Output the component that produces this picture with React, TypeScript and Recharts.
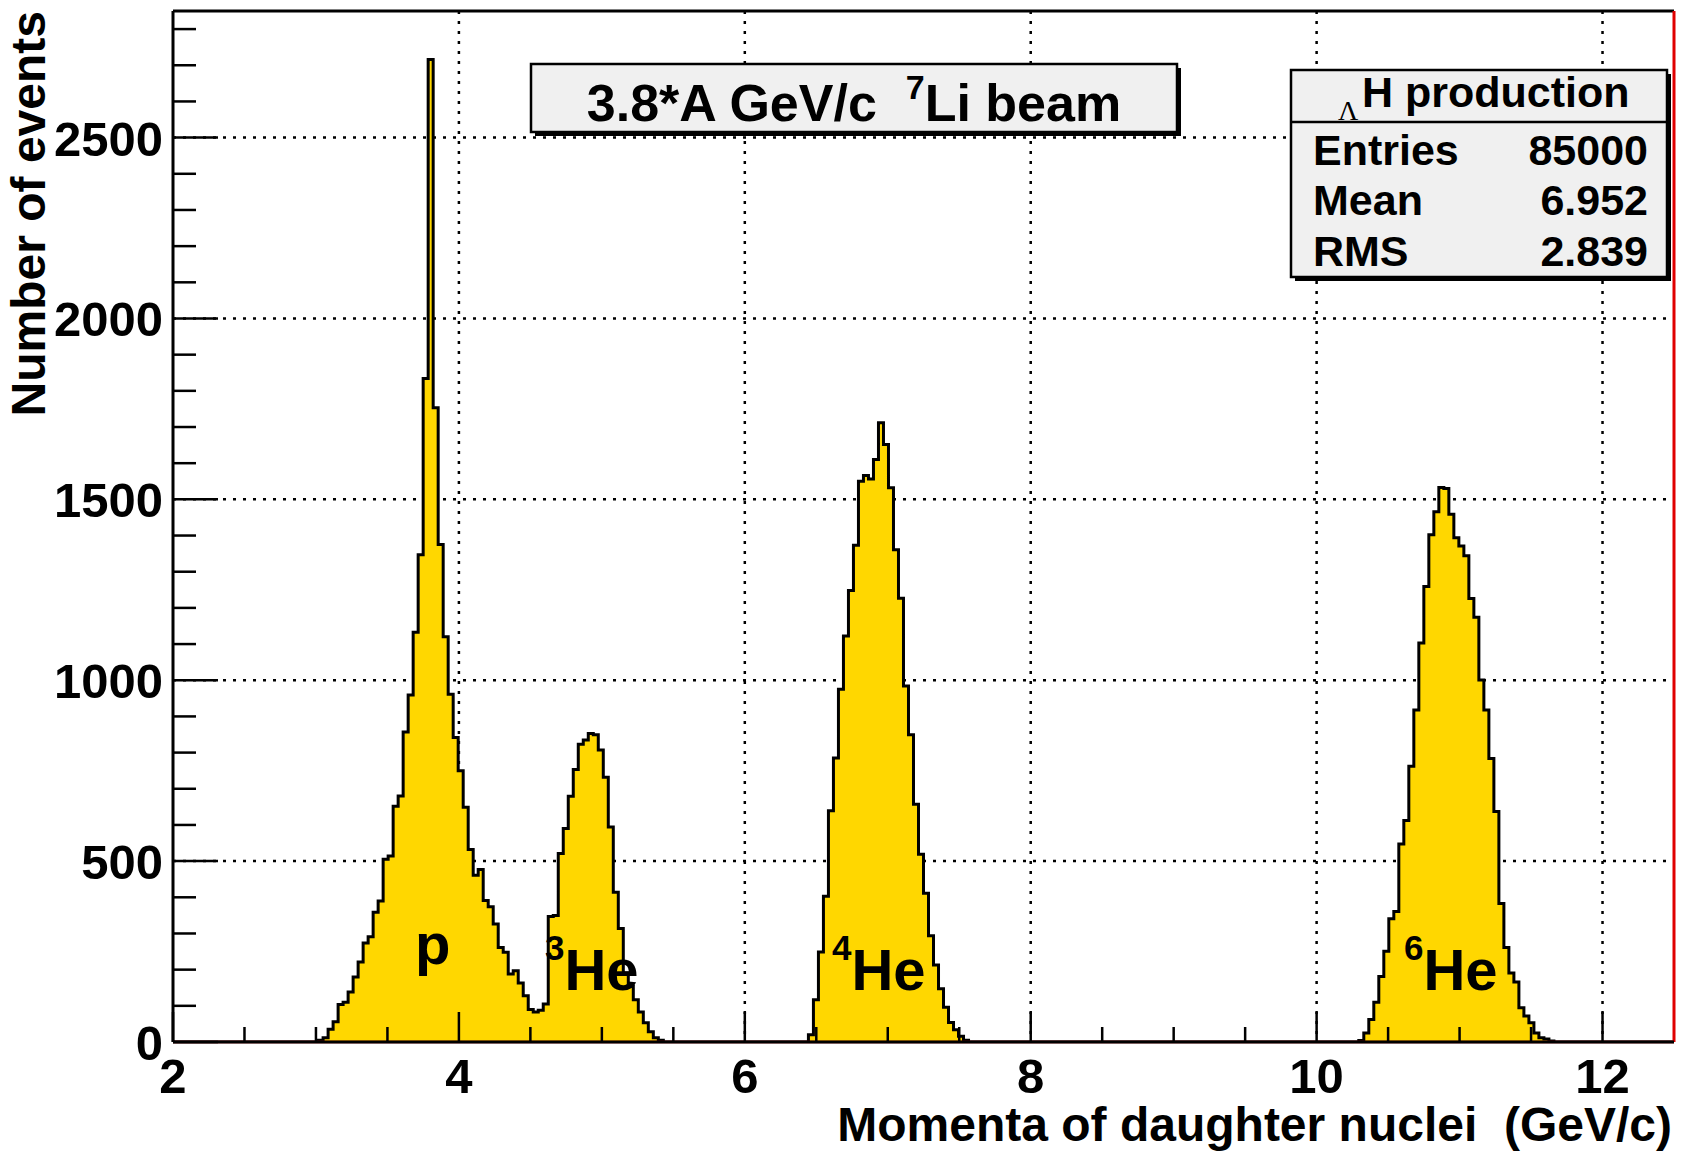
import React from 'react';
import { ComposedChart, Area, XAxis, YAxis, CartesianGrid, ReferenceLine } from 'recharts';

// histogram binning (300 bins of 0.035 GeV/c between 2 and 12.5)
const xMin = 2;
const xMax = 12.5;
const binWidth = 0.035;
const nBins = 300;
const yMax = 2850;

// bin contents, each list starts at the given momentum
const protonHe3Start = 3.015;
const protonHe3Counts = [
  5, 12, 35, 56, 104, 110, 138, 180, 221, 274, 291, 359, 390, 505, 514, 652, 680, 857, 959, 1133,
  1347, 1834, 2716, 1753, 1375, 1120, 961, 842, 750, 649, 532, 461, 477, 391, 374, 326, 261, 248,
  188, 197, 163, 128, 90, 83, 88, 105, 347, 350, 521, 590, 679, 753, 823, 835, 853, 849, 807, 732,
  594, 414, 314, 191, 154, 117, 83, 53, 28, 12, 5,
];
const he4Start = 6.445;
const he4Counts = [
  20, 117, 249, 403, 639, 785, 975, 1122, 1248, 1373, 1550, 1566, 1556, 1610, 1712, 1652, 1532,
  1361, 1227, 984, 849, 657, 519, 411, 294, 213, 147, 96, 54, 34, 16, 5,
];
const he6Start = 10.295;
const he6Counts = [
  4, 25, 62, 110, 181, 251, 341, 361, 547, 612, 762, 918, 1103, 1259, 1402, 1466, 1533, 1530, 1459,
  1394, 1371, 1344, 1226, 1174, 1001, 918, 784, 637, 383, 261, 191, 166, 95, 72, 53, 25, 12, 8, 3,
];

const xMajorTicks = [2, 4, 6, 8, 10, 12];
const xMinorTicks = [2.5, 3, 3.5, 4.5, 5, 5.5, 6.5, 7, 7.5, 8.5, 9, 9.5, 10.5, 11, 11.5];
const yMajorTicks = [0, 500, 1000, 1500, 2000, 2500];
const yMinorTicks = [
  100, 200, 300, 400, 600, 700, 800, 900, 1100, 1200, 1300, 1400, 1600, 1700, 1800, 1900, 2100,
  2200, 2300, 2400, 2600, 2700, 2800,
];
const xGrid = [4, 6, 8, 10, 12];
const yGrid = [500, 1000, 1500, 2000, 2500];

const buildHistogram = () => {
  const counts: number[] = new Array(nBins).fill(0);
  const fill = (start: number, values: number[]) => {
    const first = Math.round((start - xMin) / binWidth);
    values.forEach((v, i) => {
      counts[first + i] = v;
    });
  };
  fill(protonHe3Start, protonHe3Counts);
  fill(he4Start, he4Counts);
  fill(he6Start, he6Counts);
  const rows = counts.map((c, k) => ({ x: xMin + k * binWidth, count: c }));
  rows.push({ x: xMax, count: 0 });
  return rows;
};

const histData = buildHistogram();

const FONT = '"Liberation Sans", Arial, Helvetica, sans-serif';
const TICK_FONT = 49;
const NBSP2 = '\u00a0\u00a0';

const XTick = (props: any) => {
  const { x, y, payload } = props;
  const major = xMajorTicks.includes(payload.value);
  return (
    <g>
      <line x1={x} x2={x} y1={y} y2={y - (major ? 30 : 15)} stroke="#000" strokeWidth={2.5} />
      {major && (
        <text x={x} y={y + 51} textAnchor="middle" fontFamily={FONT} fontWeight="bold" fontSize={TICK_FONT} fill="#000">
          {payload.value}
        </text>
      )}
    </g>
  );
};

const YTick = (props: any) => {
  const { x, y, payload } = props;
  const major = yMajorTicks.includes(payload.value);
  return (
    <g>
      <line x1={x} x2={x + (major ? 45 : 23)} y1={y} y2={y} stroke="#000" strokeWidth={2.5} />
      {major && (
        <text x={x - 10} y={y + 18} textAnchor="end" fontFamily={FONT} fontWeight="bold" fontSize={TICK_FONT} fill="#000">
          {payload.value}
        </text>
      )}
    </g>
  );
};

const Nucleus = ({ x, mass }: { x: number; mass: string }) => (
  <text x={x} y={990} fontFamily={FONT} fontWeight="bold" fill="#000">
    <tspan fontSize={35} dy={-30}>{mass}</tspan>
    <tspan fontSize={58} dy={30}>He</tspan>
  </text>
);

const App: React.FC = () => {
  return (
    <div style={{ position: 'absolute', left: 0, top: 0, width: 1681, height: 1153, background: '#fff' }}>
      <ComposedChart
        width={1681}
        height={1153}
        data={histData}
        margin={{ top: 11, right: 7, bottom: 0, left: 0 }}
      >
        <CartesianGrid
          horizontalValues={yGrid}
          verticalValues={xGrid}
          stroke="#000"
          strokeWidth={2.5}
          strokeDasharray="3 7"
        />
        <XAxis
          dataKey="x"
          type="number"
          domain={[xMin, xMax]}
          allowDataOverflow
          ticks={[...xMajorTicks, ...xMinorTicks].sort((a, b) => a - b)}
          interval={0}
          tick={(p: any) => <XTick {...p} />}
          tickLine={false}
          tickSize={0}
          tickMargin={0}
          height={111}
          axisLine={{ stroke: '#000', strokeWidth: 3 }}
        />
        <YAxis
          type="number"
          domain={[0, yMax]}
          allowDataOverflow
          ticks={[...yMajorTicks, ...yMinorTicks].sort((a, b) => a - b)}
          interval={0}
          tick={(p: any) => <YTick {...p} />}
          tickLine={false}
          tickSize={0}
          tickMargin={0}
          width={173}
          axisLine={{ stroke: '#000', strokeWidth: 3 }}
        />
        <Area
          type="stepAfter"
          dataKey="count"
          stroke="#000"
          strokeWidth={3}
          fill="#FFD700"
          fillOpacity={1}
          dot={false}
          activeDot={false}
          isAnimationActive={false}
        />
        <ReferenceLine y={0} stroke="#e00000" strokeWidth={2.5} />
        <ReferenceLine y={yMax} stroke="#000" strokeWidth={3} />
        <ReferenceLine x={xMax} stroke="#e00000" strokeWidth={3} />
      </ComposedChart>

      <svg
        width={1681}
        height={1153}
        style={{ position: 'absolute', left: 0, top: 0, pointerEvents: 'none' }}
      >
        {/* axis titles */}
        <text
          transform="translate(45, 11) rotate(-90)"
          textAnchor="end"
          fontFamily={FONT}
          fontWeight="bold"
          fontSize={48}
          fill="#000"
        >
          Number of events
        </text>
        <text x={1672} y={1141} textAnchor="end" fontFamily={FONT} fontWeight="bold" fontSize={48} fill="#000">
          {'Momenta of daughter nuclei' + NBSP2 + '(GeV/c)'}
        </text>

        {/* peak labels */}
        <text x={415} y={964} fontFamily={FONT} fontWeight="bold" fontSize={58} fill="#000">
          p
        </text>
        <Nucleus x={545} mass="3" />
        <Nucleus x={832} mass="4" />
        <Nucleus x={1404} mass="6" />

        {/* title box */}
        <rect x={535} y={68} width={646} height={68} fill="#000" />
        <rect x={531} y={64} width={646} height={68} fill="#f0f0f0" stroke="#000" strokeWidth={2.5} />
        <text x={854} y={121} textAnchor="middle" fontFamily={FONT} fontWeight="bold" fontSize={52} fill="#000">
          <tspan>{'3.8*A GeV/c' + NBSP2}</tspan>
          <tspan fontSize={34} dy={-22}>7</tspan>
          <tspan dy={22}>Li beam</tspan>
        </text>

        {/* stats box */}
        <rect x={1295} y={74} width={376} height={207} fill="#000" />
        <rect x={1291} y={70} width={376} height={207} fill="#f0f0f0" stroke="#000" strokeWidth={2.5} />
        <line x1={1291} x2={1667} y1={122} y2={122} stroke="#000" strokeWidth={2.5} />
        <text x={1338} y={120} fontFamily='"Liberation Serif", "DejaVu Serif", serif' fontSize={28} fill="#000">
          Λ
        </text>
        <text x={1362} y={107} fontFamily={FONT} fontWeight="bold" fontSize={43} fill="#000">
          H production
        </text>
        <g fontFamily={FONT} fontWeight="bold" fontSize={43} fill="#000">
          <text x={1313} y={165}>Entries</text>
          <text x={1648} y={165} textAnchor="end">85000</text>
          <text x={1313} y={215}>Mean</text>
          <text x={1648} y={215} textAnchor="end">6.952</text>
          <text x={1313} y={266}>RMS</text>
          <text x={1648} y={266} textAnchor="end">2.839</text>
        </g>
      </svg>
    </div>
  );
};

export default App;
